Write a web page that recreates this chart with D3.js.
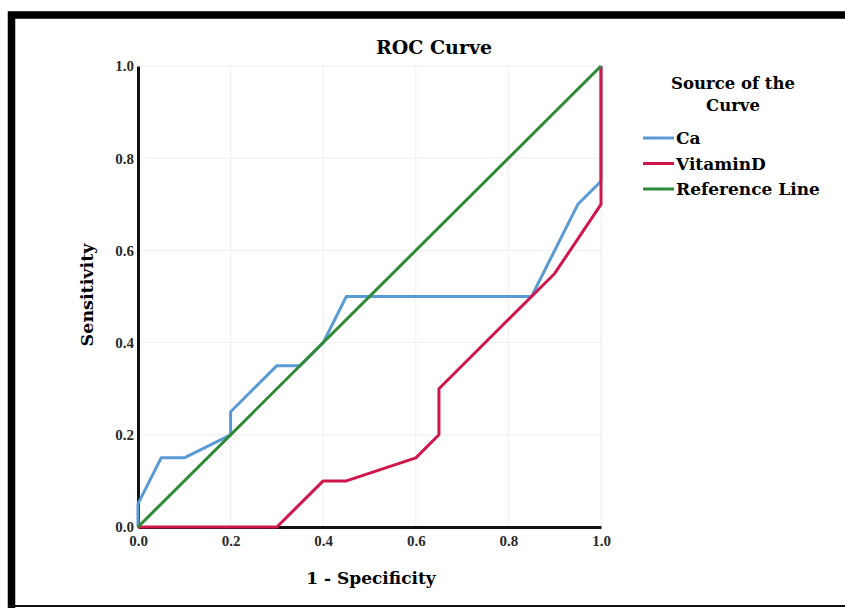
<!DOCTYPE html>
<html>
<head>
<meta charset="utf-8">
<script src="https://cdn.jsdelivr.net/npm/d3@7"></script>
<style>
    body { margin: 0; background: #fff; }
    svg { display: block; }
</style>
</head>
<body>
<script>
// roc curve points (1 - specificity, sensitivity)
var caX = [0, 0, 0.05, 0.1, 0.2, 0.2, 0.3, 0.35, 0.4, 0.45, 0.85, 0.95, 1, 1]
var caY = [0, 0.05, 0.15, 0.15, 0.2, 0.25, 0.35, 0.35, 0.4, 0.5, 0.5, 0.7, 0.75, 1]
var vitX = [0, 0.3, 0.4, 0.45, 0.6, 0.65, 0.65, 0.85, 0.9, 1, 1]
var vitY = [0, 0, 0.1, 0.1, 0.15, 0.2, 0.3, 0.5, 0.55, 0.7, 1]
var refX = [0, 1]
var refY = [0, 1]
var ticks = [0, 0.2, 0.4, 0.6, 0.8, 1.0]
var seriesNames = ['Ca', 'VitaminD', 'Reference Line']
var colors = ['#5b9bd5', '#d0164a', '#2f8a36']

var W = 845, H = 608
var plotL = 138, plotR = 601, plotT = 66, plotB = 527
var serif = '"DejaVu Serif", "Liberation Serif", serif'
var tickFont = '"Liberation Serif", serif'

var svg = d3.select('body').append('svg')
    .attr('width', W)
    .attr('height', H)

// frame round the picture
svg.append('path')
    .attr('d', 'M11.5,' + (H + 5) + ' V15 H' + (W + 5))
    .attr('fill', 'none')
    .attr('stroke', '#000')
    .attr('stroke-width', 7.5)
svg.append('line')
    .attr('x1', 8).attr('x2', W).attr('y1', 606).attr('y2', 606)
    .attr('stroke', '#111').attr('stroke-width', 2)

var x = d3.scaleLinear().domain([0, 1]).range([plotL, plotR])
var y = d3.scaleLinear().domain([0, 1]).range([plotB, plotT])

// grid
var grid = svg.append('g')
grid.selectAll('.gx').data(ticks.slice(1)).enter().append('line')
    .attr('x1', function (d) { return x(d) })
    .attr('x2', function (d) { return x(d) })
    .attr('y1', plotT).attr('y2', plotB)
    .attr('stroke', '#efefef').attr('stroke-width', 1)
grid.selectAll('.gy').data(ticks.slice(1)).enter().append('line')
    .attr('x1', plotL).attr('x2', plotR)
    .attr('y1', function (d) { return y(d) })
    .attr('y2', function (d) { return y(d) })
    .attr('stroke', '#efefef').attr('stroke-width', 1)

// axes
var xAxis = svg.append('g')
    .attr('transform', 'translate(0,' + plotB + ')')
    .call(d3.axisBottom(x).tickValues(ticks).tickFormat(d3.format('.1f')).tickSize(0).tickPadding(8))
var yAxis = svg.append('g')
    .attr('transform', 'translate(' + plotL + ',0)')
    .call(d3.axisLeft(y).tickValues(ticks).tickFormat(d3.format('.1f')).tickSize(0).tickPadding(4))

;[xAxis, yAxis].forEach(function (a) {
    a.select('.domain').attr('stroke', '#111').attr('stroke-width', 3)
    a.selectAll('text')
        .attr('font-family', tickFont)
        .attr('font-weight', 'bold')
        .attr('font-size', 15)
        .attr('fill', '#2a2a2a')
})

// curves
var line = d3.line()
    .x(function (d) { return x(d[0]) })
    .y(function (d) { return y(d[1]) })

var series = [d3.zip(caX, caY), d3.zip(vitX, vitY), d3.zip(refX, refY)]
svg.append('g').selectAll('path').data(series).enter().append('path')
    .attr('d', line)
    .attr('fill', 'none')
    .attr('stroke', function (d, i) { return colors[i] })
    .attr('stroke-width', 3)
    .attr('stroke-linejoin', 'round')

// titles
svg.append('text')
    .text('ROC Curve')
    .attr('x', 434).attr('y', 54)
    .attr('text-anchor', 'middle')
    .attr('font-family', serif).attr('font-weight', 'bold').attr('font-size', 19)
svg.append('text')
    .text('1 - Specificity')
    .attr('x', 371).attr('y', 584)
    .attr('text-anchor', 'middle')
    .attr('font-family', serif).attr('font-weight', 'bold').attr('font-size', 17)
svg.append('text')
    .text('Sensitivity')
    .attr('transform', 'translate(93,295) rotate(-90)')
    .attr('text-anchor', 'middle')
    .attr('font-family', serif).attr('font-weight', 'bold').attr('font-size', 17.5)

// legend
var legend = svg.append('g')
legend.selectAll('.lt').data(['Source of the', 'Curve']).enter().append('text')
    .text(function (d) { return d })
    .attr('x', 733)
    .attr('y', function (d, i) { return 89 + i * 22 })
    .attr('text-anchor', 'middle')
    .attr('font-family', serif).attr('font-weight', 'bold').attr('font-size', 16.5)

var items = legend.selectAll('.item').data(seriesNames).enter().append('g')
    .attr('transform', function (d, i) { return 'translate(643,' + (138 + i * 25.5) + ')' })
items.append('line')
    .attr('x1', 0).attr('x2', 31)
    .attr('stroke', function (d, i) { return colors[i] })
    .attr('stroke-width', 3)
items.append('text')
    .text(function (d) { return d })
    .attr('x', 33).attr('y', 6)
    .attr('font-family', serif).attr('font-weight', 'bold').attr('font-size', 17)
</script>
</body>
</html>
